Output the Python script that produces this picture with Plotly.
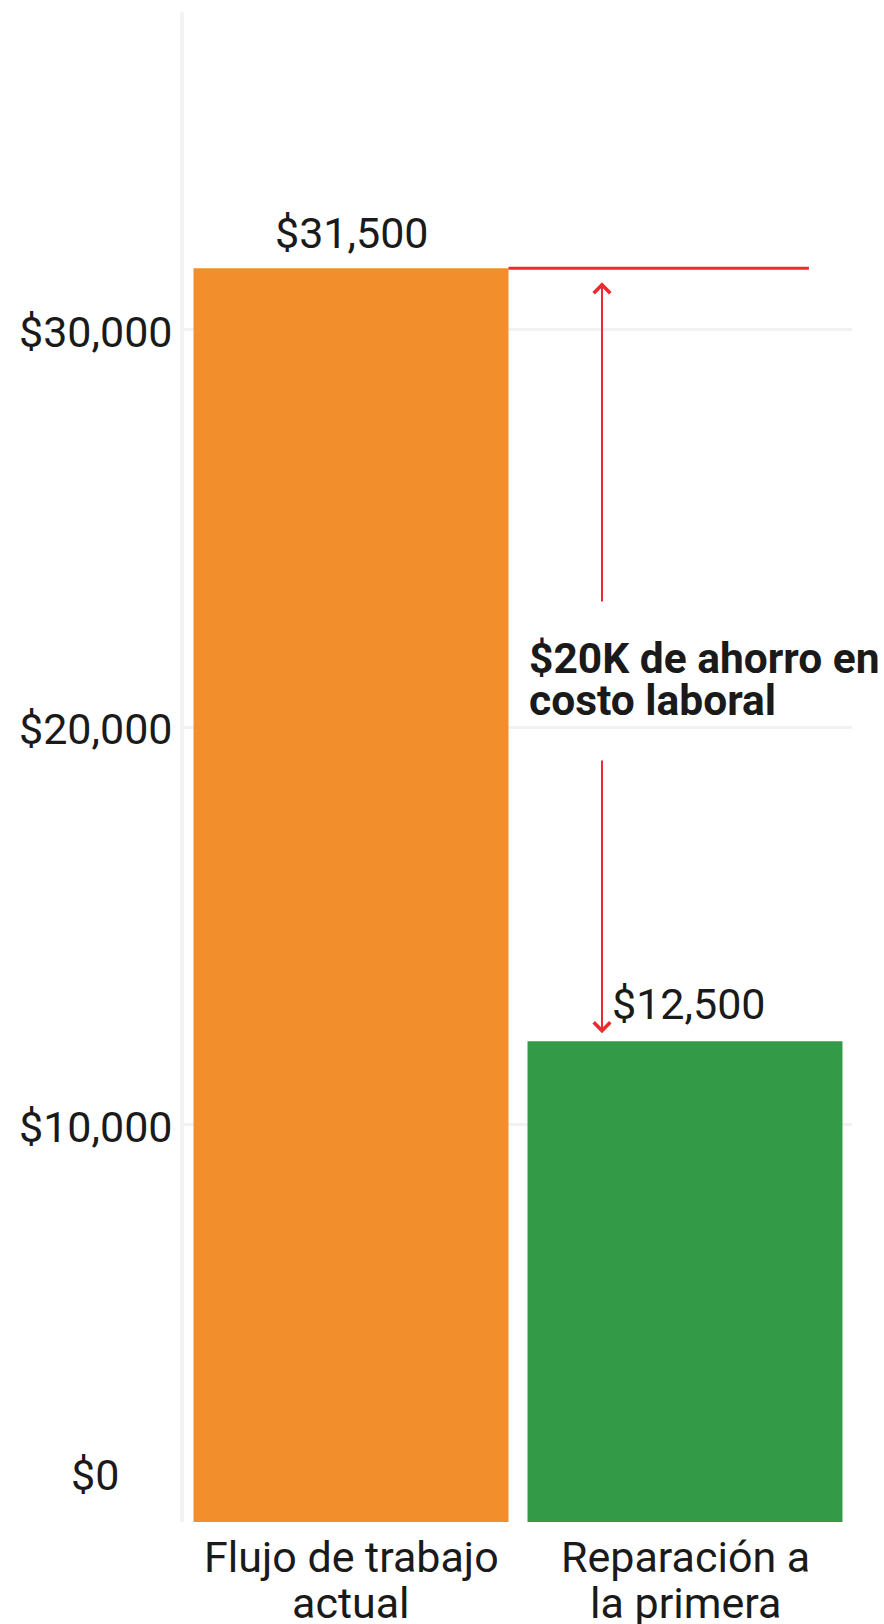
import plotly.graph_objects as go

# ---- data ----
categories = ["Flujo de trabajo<br>actual", "Reparación a<br>la primera"]
costs = [31550, 12100]
value_labels = ["$31,500", "$12,500"]
bar_colors = ["#F28E2C", "#339B47"]
ytick_vals = [0, 10000, 20000, 30000]
ytick_text = ["$0", "$10,000", "$20,000", "$30,000"]
savings_lines = ["$20K de ahorro en", "costo laboral"]

# ---- style / layout constants ----
FONT = "Roboto, 'Open Sans', sans-serif"
TEXT_COLOR = "#1a1a1a"
RED = "#EC2B2E"
BARGAP = 0.057
BAR_W = 1 - BARGAP
Y_MAX = 38000
FS = 43

fig = go.Figure()
fig.add_trace(go.Bar(
    x=[0, 1], y=costs,
    marker=dict(color=bar_colors, line=dict(width=0)),
    hoverinfo="skip",
))

annotations = []
# value labels above bars
for i, (v, t) in enumerate(zip(costs, value_labels)):
    annotations.append(dict(
        x=i, y=v, xref="x", yref="y", text=t, showarrow=False,
        xanchor="center", yanchor="middle", yshift=35 if i == 0 else 37,
        xshift=0 if i == 0 else 3,
        font=dict(family=FONT, size=FS, color=TEXT_COLOR),
    ))

# y tick labels (centered in left margin)
for v, t in zip(ytick_vals, ytick_text):
    annotations.append(dict(
        x=0, y=v, xref="paper", yref="y", text=t, showarrow=False,
        xanchor="center", yanchor="middle", xshift=-89,
        yshift=47 if v == 0 else -2,
        font=dict(family=FONT, size=FS, color=TEXT_COLOR),
    ))

# category labels under the bars (one text per line)
for i, cat in enumerate(categories):
    for j, line in enumerate(cat.split("<br>")):
        annotations.append(dict(
            x=i, y=0, xref="x", yref="y", text=line, showarrow=False,
            xanchor="center", yanchor="middle", yshift=-34.5 - 46.5 * j,
            font=dict(family=FONT, size=FS, color=TEXT_COLOR),
        ))

ARROW_X = 0.7515
# upper arrow (pointing up to the first bar level)
annotations.append(dict(
    x=ARROW_X, y=costs[0], ax=ARROW_X, ay=23127,
    xref="x", yref="y", axref="x", ayref="y",
    text="", showarrow=True, arrowhead=4, arrowsize=1.6, arrowwidth=2,
    arrowcolor=RED, standoff=14,
))
# lower arrow (pointing down to the second bar)
annotations.append(dict(
    x=ARROW_X, y=costs[1], ax=ARROW_X, ay=19201,
    xref="x", yref="y", axref="x", ayref="y",
    text="", showarrow=True, arrowhead=4, arrowsize=1.6, arrowwidth=2,
    arrowcolor=RED, standoff=8,
))

# savings text, two lines
for line, yc in zip(savings_lines, [21743, 20686]):
    annotations.append(dict(
        x=0.528, y=yc, xref="x", yref="y", text="<b>" + line + "</b>",
        showarrow=False, xanchor="left", yanchor="middle",
        font=dict(family=FONT, size=42.5, color=TEXT_COLOR),
    ))

shapes = [dict(
    type="line", xref="x", yref="y",
    x0=0 + BAR_W / 2, x1=1.371, y0=costs[0], y1=costs[0],
    line=dict(color=RED, width=3),
    layer="above",
)]

fig.update_layout(
    width=884, height=1624,
    margin=dict(l=184, r=32, t=12, b=102, autoexpand=False),
    paper_bgcolor="white", plot_bgcolor="white",
    bargap=BARGAP,
    showlegend=False,
    annotations=annotations,
    shapes=shapes,
    font=dict(family=FONT, color=TEXT_COLOR),
    xaxis=dict(
        range=[-0.5, 1.5], showgrid=False, zeroline=False,
        showline=False, ticks="", showticklabels=False,
        automargin=False, fixedrange=True,
    ),
    yaxis=dict(
        range=[0, Y_MAX], tickmode="array", tickvals=ytick_vals,
        showticklabels=False, showgrid=True, gridcolor="#f2f2f2", gridwidth=3,
        zeroline=False, showline=True, linecolor="#f3f3f3", linewidth=4,
        ticks="", automargin=False, fixedrange=True,
    ),
)

fig.write_html(
    "out.html",
    config={"displayModeBar": False, "staticPlot": True},
    post_script="document.body.style.margin='0';",
)
